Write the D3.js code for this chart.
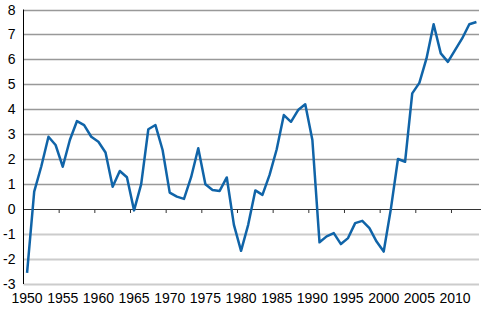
<!DOCTYPE html>
<html>
<head>
<meta charset="utf-8">
<script src="https://cdn.jsdelivr.net/npm/d3@7"></script>
<style>
	body { margin: 0; background: #fff; }
	text { font-family: "Liberation Sans", Arial, sans-serif; font-size: 14px; fill: #000; }
</style>
</head>
<body>
<script>
var years = d3.range(1950, 2014);
var values = [
	-2.55, 0.70, 1.72, 2.90, 2.57, 1.70, 2.77, 3.53, 3.37, 2.90,
	2.70, 2.27, 0.90, 1.53, 1.28, -0.05, 1.00, 3.20, 3.37, 2.37,
	0.66, 0.50, 0.41, 1.28, 2.44, 1.00, 0.77, 0.73, 1.27, -0.63,
	-1.67, -0.63, 0.75, 0.57, 1.37, 2.40, 3.77, 3.50, 3.97, 4.20,
	2.77, -1.33, -1.09, -0.96, -1.40, -1.16, -0.56, -0.47, -0.76, -1.30,
	-1.70, 0.00, 2.01, 1.90, 4.64, 5.06, 6.04, 7.41, 6.24, 5.90,
	6.37, 6.84, 7.41, 7.50
];
var yTicks = [-3, -2, -1, 0, 1, 2, 3, 4, 5, 6, 7, 8];
var xLabels = [1950, 1955, 1960, 1965, 1970, 1975, 1980, 1985, 1990, 1995, 2000, 2005, 2010];

var w = 485;
var h = 317;

var svg = d3.select("body")
			.append("svg")
			.attr("width", w)
			.attr("height", h);

var x = d3.scaleBand()
	.domain(years)
	.range([23.5, 480]);

var y = d3.scaleLinear()
	.domain([-3, 8])
	.range([284, 9.5]);

// gridlines, the ones below zero are lighter
svg.selectAll("line.grid")
	.data(yTicks.filter(function(d) { return d != 0; }))
	.enter()
	.append("line")
	.attr("class", "grid")
	.attr("x1", 23.5)
	.attr("x2", 479)
	.attr("y1", function(d) { return Math.round(y(d)) + 0.5; })
	.attr("y2", function(d) { return Math.round(y(d)) + 0.5; })
	.attr("stroke", function(d) { return d < 0 ? "#cccccc" : "#999999"; })
	.attr("stroke-width", function(d) { return d < 0 ? 2 : 1.3; });

// zero line with category ticks
var y0 = Math.round(y(0)) + 0.5;
svg.append("line")
	.attr("x1", 23.5)
	.attr("x2", 481)
	.attr("y1", y0)
	.attr("y2", y0)
	.attr("stroke", "#333");

svg.selectAll("line.tick")
	.data(xLabels.slice(1))
	.enter()
	.append("line")
	.attr("class", "tick")
	.attr("x1", function(d) { return x(d); })
	.attr("x2", function(d) { return x(d); })
	.attr("y1", y0)
	.attr("y2", y0 + 3.5)
	.attr("stroke", "#333");

// y axis line
svg.append("line")
	.attr("x1", 23.5)
	.attr("x2", 23.5)
	.attr("y1", y(8))
	.attr("y2", y(-3))
	.attr("stroke", "#000");

svg.selectAll("text.ylab")
	.data(yTicks)
	.enter()
	.append("text")
	.attr("class", "ylab")
	.attr("x", 15.5)
	.attr("y", function(d) { return y(d) + 5; })
	.attr("text-anchor", "end")
	.text(function(d) { return d < 0 ? "-" + Math.abs(d) : d; });

svg.selectAll("text.xlab")
	.data(xLabels)
	.enter()
	.append("text")
	.attr("class", "xlab")
	.attr("x", function(d) { return x(d) + x.bandwidth() / 2; })
	.attr("y", 303)
	.attr("text-anchor", "middle")
	.text(function(d) { return d; });

var line = d3.line()
	.x(function(d, i) { return x(years[i]) + x.bandwidth() / 2; })
	.y(function(d) { return y(d); });

svg.append("path")
	.datum(values)
	.attr("d", line)
	.attr("fill", "none")
	.attr("stroke", "#1064a8")
	.attr("stroke-width", 2.5)
	.attr("stroke-linejoin", "round");
</script>
</body>
</html>
